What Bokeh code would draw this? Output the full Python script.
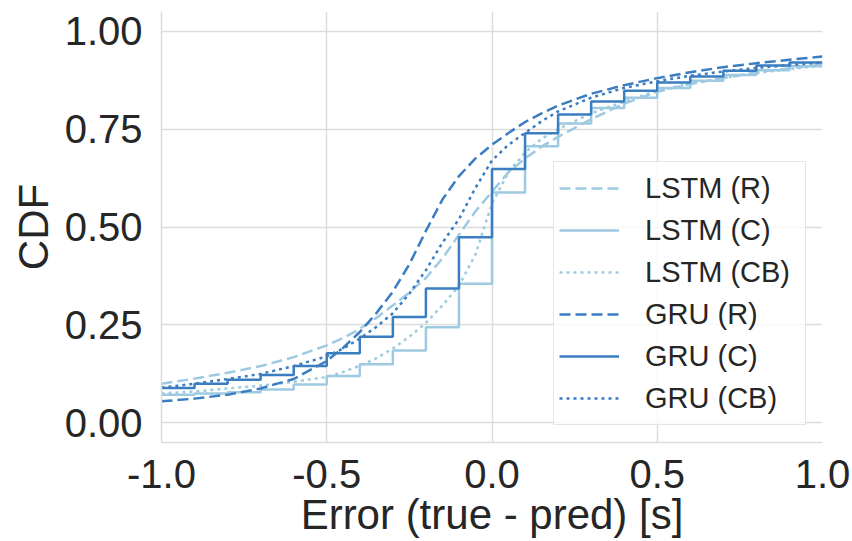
from bokeh.plotting import figure
from bokeh.models import FixedTicker, Legend, LegendItem
from bokeh.embed import file_html
from bokeh.resources import INLINE

# ---- data -------------------------------------------------------------
# smooth CDF curves (x, value)
x_smooth = [-1.0, -0.9, -0.8, -0.7, -0.6, -0.5, -0.45, -0.4, -0.35, -0.3, -0.25,
            -0.2, -0.15, -0.1, -0.05, 0.0, 0.05, 0.1, 0.15, 0.2, 0.3, 0.4, 0.5,
            0.6, 0.7, 0.8, 0.9, 1.0]
lstm_r = [0.100, 0.113, 0.128, 0.145, 0.168, 0.198, 0.217, 0.240, 0.268, 0.300, 0.333,
          0.370, 0.420, 0.480, 0.540, 0.590, 0.640, 0.675, 0.705, 0.730, 0.775, 0.815, 0.845,
          0.865, 0.880, 0.895, 0.905, 0.915]
lstm_cb = [0.075, 0.080, 0.088, 0.095, 0.105, 0.117, 0.130, 0.146, 0.165, 0.190, 0.220,
           0.255, 0.300, 0.350, 0.430, 0.560, 0.640, 0.690, 0.725, 0.750, 0.790, 0.820, 0.848,
           0.866, 0.880, 0.893, 0.903, 0.912]
gru_r = [0.055, 0.062, 0.072, 0.088, 0.112, 0.158, 0.192, 0.232, 0.280, 0.335, 0.405,
         0.490, 0.570, 0.630, 0.675, 0.710, 0.740, 0.768, 0.790, 0.810, 0.840, 0.862, 0.880,
         0.895, 0.908, 0.918, 0.927, 0.935]
gru_cb = [0.090, 0.100, 0.112, 0.125, 0.145, 0.170, 0.190, 0.215, 0.245, 0.280, 0.330,
          0.390, 0.460, 0.520, 0.600, 0.670, 0.710, 0.740, 0.770, 0.795, 0.830, 0.855, 0.872,
          0.886, 0.897, 0.906, 0.913, 0.920]

# step CDFs (bin edges, value in each bin; last value repeated at right edge)
bin_edges = [-1.0, -0.9, -0.8, -0.7, -0.6, -0.5, -0.4, -0.3, -0.2, -0.1, 0.0,
             0.1, 0.2, 0.3, 0.4, 0.5, 0.6, 0.7, 0.8, 0.9, 1.0]
lstm_c = [0.072, 0.075, 0.078, 0.085, 0.098, 0.120, 0.150, 0.185, 0.244, 0.355,
          0.588, 0.706, 0.764, 0.804, 0.830, 0.855, 0.873, 0.888, 0.900, 0.910, 0.910]
gru_c = [0.089, 0.100, 0.110, 0.122, 0.145, 0.178, 0.220, 0.270, 0.343, 0.474,
         0.648, 0.739, 0.787, 0.820, 0.848, 0.869, 0.884, 0.899, 0.912, 0.920, 0.920]

x_ticks = [-1.0, -0.5, 0.0, 0.5, 1.0]
x_tick_labels = ["-1.0", "-0.5", "0.0", "0.5", "1.0"]
y_ticks = [0.0, 0.25, 0.5, 0.75, 1.0]
y_tick_labels = ["0.00", "0.25", "0.50", "0.75", "1.00"]
x_title = "Error (true - pred) [s]"
y_title = "CDF"

LIGHT = "#9ecae1"
DARK = "#3a7dc0"
FONT = "Liberation Sans"
TXT = "#262626"
GRID = "#dcdcdc"

p = figure(width=852, height=541, x_range=(-1.0, 1.0), y_range=(-0.05, 1.05),
           output_backend="svg", toolbar_location=None,
           min_border_left=161, min_border_right=30, min_border_top=11, min_border_bottom=99)
p.outline_line_color = None
p.background_fill_color = "white"

for g in (p.xgrid[0], p.ygrid[0]):
    g.grid_line_color = GRID
    g.grid_line_width = 1.5
p.xgrid[0].ticker = FixedTicker(ticks=x_ticks)
p.ygrid[0].ticker = FixedTicker(ticks=y_ticks)

p.xaxis.ticker = FixedTicker(ticks=x_ticks)
p.yaxis.ticker = FixedTicker(ticks=y_ticks)
p.xaxis.major_label_overrides = {t: s for t, s in zip(x_ticks, x_tick_labels)}
p.yaxis.major_label_overrides = {t: s for t, s in zip(y_ticks, y_tick_labels)}
for ax in (p.xaxis[0], p.yaxis[0]):
    ax.major_tick_line_color = None
    ax.minor_tick_line_color = None
    ax.axis_line_color = GRID
    ax.axis_line_width = 1.5
    ax.major_label_text_font = FONT
    ax.major_label_text_font_size = "40px"
    ax.major_label_text_color = TXT
    ax.axis_label_text_font = FONT
    ax.axis_label_text_font_size = "42px"
    ax.axis_label_text_font_style = "normal"
    ax.axis_label_text_color = TXT
p.xaxis.axis_label = x_title
p.yaxis.axis_label = y_title
p.xaxis.major_label_standoff = 11
p.xaxis.axis_label_standoff = 0
p.yaxis.major_label_standoff = 13
p.yaxis.axis_label_standoff = 5

lw = 2.5
r1 = p.line(x_smooth, lstm_r, line_color=LIGHT, line_width=lw, line_dash="11 5")
r2 = p.step(bin_edges, lstm_c, mode="after", line_color=LIGHT, line_width=lw)
r3 = p.line(x_smooth, lstm_cb, line_color=LIGHT, line_width=lw, line_dash="3 4")
r4 = p.line(x_smooth, gru_r, line_color=DARK, line_width=lw, line_dash="11 5")
r5 = p.step(bin_edges, gru_c, mode="after", line_color=DARK, line_width=lw)
r6 = p.line(x_smooth, gru_cb, line_color=DARK, line_width=lw, line_dash="3 4")

legend = Legend(items=[
    LegendItem(label="LSTM (R)", renderers=[r1]),
    LegendItem(label="LSTM (C)", renderers=[r2]),
    LegendItem(label="LSTM (CB)", renderers=[r3]),
    LegendItem(label="GRU (R)", renderers=[r4]),
    LegendItem(label="GRU (C)", renderers=[r5]),
    LegendItem(label="GRU (CB)", renderers=[r6]),
], location=(392, 17))
legend.label_text_font = FONT
legend.label_text_font_size = "29px"
legend.label_text_color = TXT
legend.glyph_width = 60
legend.label_standoff = 26
legend.label_height = 42
legend.glyph_height = 42
legend.label_width = 155
legend.spacing = 0
legend.padding = 5
legend.margin = 0
legend.border_line_color = "#cccccc"
legend.border_line_width = 1.2
legend.background_fill_alpha = 0.8
p.add_layout(legend, "center")

open("out.html", "w").write(file_html(p, INLINE))
